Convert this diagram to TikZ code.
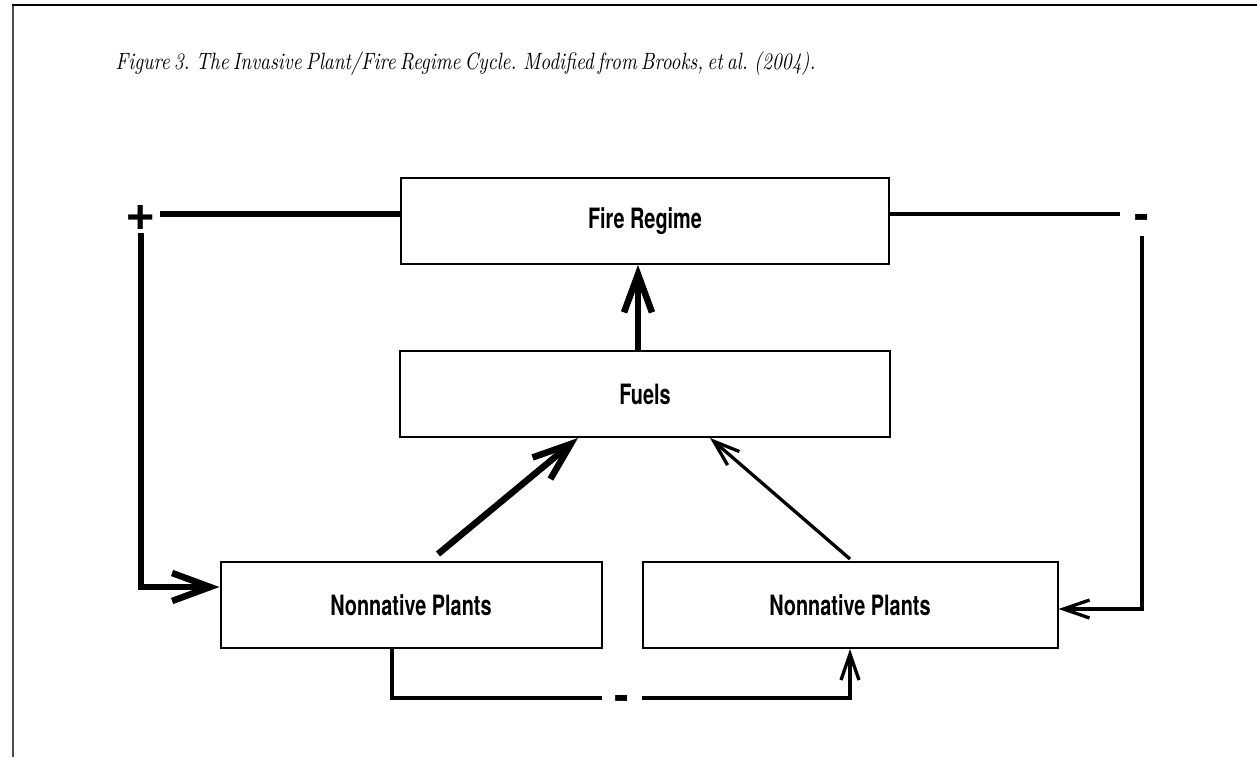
\documentclass[tikz,border=0pt]{standalone}
\usepackage{fontspec}
\newfontfamily\cndfont[FakeStretch=0.71]{TeX Gyre Heros}
\newfontfamily\sgnfont{TeX Gyre Heros}
\newfontfamily\ttlfont[FakeStretch=0.82,WordSpace=0.6]{lmroman10-italic.otf}
\usetikzlibrary{arrows.meta}

\begin{document}
\begin{tikzpicture}[x=1pt,y=-1pt,thick]
\tikzstyle{blk}=[rectangle,draw,line width=2pt,align=center,minimum height=86pt,inner sep=0pt,font=\cndfont\bfseries\fontsize{28}{30}\selectfont]
\tikzstyle{sgn}=[inner sep=0pt,font=\sgnfont\bfseries\fontsize{44}{44}\selectfont]
\tikzstyle{heavy}=[line width=6.5pt,>={Straight Barb[length=38pt,width=28pt]}]
\tikzstyle{light}=[line width=3.3pt,>={Straight Barb[length=26pt,width=18pt]}]
\useasboundingbox (0,0) rectangle (1257,757);
% frame
\draw[line width=2pt,black!70] (13,757) -- (13,5);
\draw[line width=2pt] (12,5) -- (1257,5);
\node[anchor=base west,font=\ttlfont\fontsize{23.6}{25}\selectfont] (title) at (112,70) {Figure 3. The Invasive Plant/Fire Regime Cycle. Modified from Brooks, et al. (2004).};
% boxes
\node[blk,minimum width=488pt] (fire) at (645,221) {Fire Regime};
\node[blk,minimum width=490pt] (fuels) at (645,394) {Fuels};
\node[blk,minimum width=381pt] (nonnatA) at (411,605) {Nonnative Plants};
\node[blk,minimum width=415pt] (nonnatB) at (850,605) {Nonnative Plants};
% signs
\node[sgn,minimum size=38pt,font=\sgnfont\bfseries\fontsize{52}{52}\selectfont] (plus) at (141,214) {\raisebox{-16pt}[0pt][0pt]{+}};
\node[sgn,minimum size=44pt] (minusR) at (1142,214) {\raisebox{-15pt}[0pt][0pt]{-}};
\node[sgn,minimum width=40pt,minimum height=20pt] (minusB) at (622,698) {\raisebox{-12pt}[0pt][0pt]{-}};
% connectors
\draw[heavy,->] ([xshift=-7pt]fuels.north) -- ([xshift=-7pt]fire.south);
\draw[heavy,->] ([xshift=27pt,yshift=7pt]nonnatA.north) -- ([xshift=-67pt]fuels.south);
\draw[light,->] ([yshift=2pt]nonnatB.north) -- ([xshift=65pt]fuels.south);
\draw[heavy] ([yshift=7pt]fire.west) -- (plus.east);
\draw[heavy,->] (plus.south) |- ([yshift=18pt]nonnatA.west);
\draw[light] ([yshift=7pt]fire.east) -- (minusR.west);
\draw[light,->] (minusR.south) |- ([yshift=-4pt]nonnatB.east);
\draw[light] ([xshift=-19pt]nonnatA.south) |- (minusB.west);
\draw[light,->] (minusB.east) -| (nonnatB.south);
\end{tikzpicture}
\end{document}
